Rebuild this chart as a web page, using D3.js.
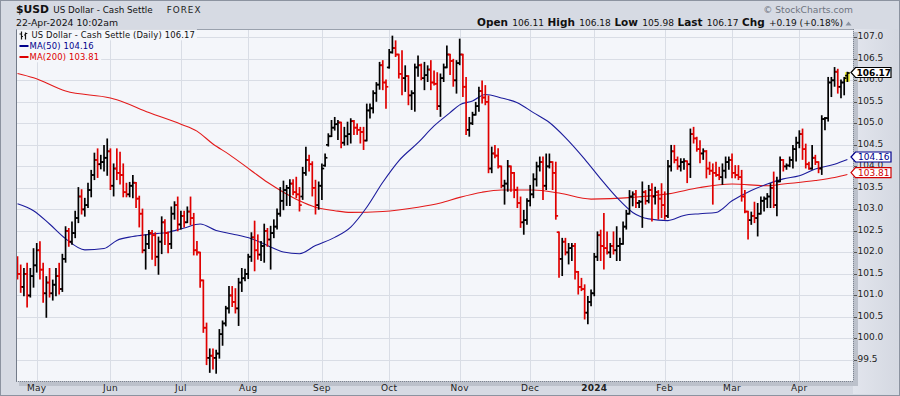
<!DOCTYPE html>
<html>
<head>
<meta charset="utf-8">
<script src="https://cdn.jsdelivr.net/npm/d3@7"></script>
<style>
  html, body { margin: 0; padding: 0; background: #d7dbe4; }
  svg { display: block; }
  text { font-family: "DejaVu Sans", Verdana, sans-serif; }
</style>
</head>
<body>
<svg id="chart" width="900" height="396"></svg>
<script>

// trading calendar
var firstDay = "2023-04-21", lastDay = "2024-04-22";
var closedDays = ["2023-12-25", "2024-01-01"];

// daily bars: open, high, low, close
var bars = [
  // Apr 2023
  [101.80,101.89,101.39,101.50],[101.50,101.70,101.08,101.20],[101.20,101.62,101.00,101.50],[101.50,101.74,100.74,101.00],[101.00,101.62,100.97,101.45],
  [101.45,102.08,101.20,101.70],
  // May
  [101.70,102.20,101.55,102.05],[102.05,102.24,101.39,101.60],[101.60,101.74,100.85,101.05],[101.05,101.43,100.50,101.30],[101.30,101.62,100.97,101.05],
  [101.05,101.35,100.90,101.25],[101.25,101.62,101.00,101.45],[101.45,101.74,101.04,101.15],[101.15,101.95,101.10,101.85],[101.85,102.59,101.78,102.50],
  [102.50,102.55,102.15,102.25],[102.25,102.70,102.20,102.45],[102.45,102.95,102.35,102.80],[102.80,103.50,102.70,103.30],[103.30,103.45,102.90,103.00],
  [103.00,103.25,102.85,103.10],[103.10,103.60,103.05,103.45],[103.45,103.90,103.30,103.80],[103.80,104.30,103.70,104.15],[104.15,104.40,103.75,104.05],
  [104.05,104.25,103.95,104.10],[104.10,104.48,103.90,104.20],[104.20,104.63,103.80,104.35],
  // Jun
  [104.35,104.40,103.47,103.55],[103.55,104.05,103.32,103.95],[103.95,104.40,103.70,103.85],[103.85,104.32,103.60,103.80],[103.80,104.05,103.30,103.40],
  [103.40,103.60,103.30,103.35],[103.35,103.62,103.30,103.55],[103.55,103.78,103.28,103.62],[103.62,103.62,103.05,103.25],[103.25,103.30,102.60,102.90],
  [102.90,103.00,102.00,102.05],[102.05,102.40,101.62,102.20],[102.20,102.50,102.10,102.45],[102.45,102.50,101.85,102.40],[102.40,102.45,101.70,101.90],
  [101.90,102.35,101.50,102.25],[102.25,102.82,101.98,102.70],[102.70,102.75,102.19,102.45],[102.45,102.47,102.00,102.20],[102.20,103.05,102.10,102.90],
  [102.90,103.17,102.78,103.10],[103.10,103.28,102.51,102.65],
  // Jul
  [102.65,102.95,102.55,102.85],[102.85,102.95,102.60,102.70],[102.70,103.05,102.70,102.95],[102.95,103.28,102.65,102.80],[102.80,102.90,101.95,102.05],
  [102.05,102.25,101.95,102.00],[102.00,102.00,101.20,101.35],[101.35,101.35,100.15,100.25],[100.25,100.35,99.40,99.55],[99.55,99.75,99.22,99.60],
  [99.60,99.75,99.30,99.55],[99.55,99.72,99.20,99.65],[99.65,100.20,99.55,100.10],[100.10,100.40,99.85,100.35],[100.35,100.74,100.30,100.70],
  [100.70,101.20,100.60,101.00],[101.00,101.20,100.75,100.85],[100.85,101.15,100.60,100.70],[100.70,101.39,100.31,101.30],[101.30,101.62,101.10,101.40],
  [101.40,101.60,101.35,101.50],
  // Aug
  [101.50,101.95,101.40,101.90],[101.90,102.45,101.80,102.35],[102.35,102.72,101.58,102.05],[102.05,102.40,101.85,101.95],[101.95,102.25,101.82,102.15],
  [102.15,102.65,101.78,102.50],[102.50,102.55,102.15,102.30],[102.30,102.60,101.62,102.45],[102.45,102.75,102.35,102.60],[102.60,103.00,102.55,102.90],
  [102.90,103.50,102.85,103.20],[103.20,103.65,103.00,103.45],[103.45,103.55,103.10,103.50],[103.50,103.68,103.10,103.60],[103.60,103.68,103.35,103.40],
  [103.40,103.74,103.28,103.35],[103.35,103.50,102.97,103.10],[103.30,103.97,103.24,103.85],[103.85,104.44,103.80,104.15],[104.15,104.25,103.90,104.05],
  [104.05,104.10,103.32,103.50],[103.50,103.67,102.90,103.10],[103.10,103.63,103.01,103.55],
  // Sep
  [103.55,104.05,103.24,103.95],[104.02,104.28,104.01,104.20],[104.50,104.75,104.48,104.70],[104.70,105.06,104.70,104.90],[104.90,105.13,104.85,104.98],
  [104.98,105.06,104.63,105.02],[105.02,105.02,104.44,104.55],[104.55,104.90,104.50,104.70],[104.70,105.02,104.51,104.75],[104.75,105.10,104.55,105.05],
  [105.05,105.06,104.75,104.90],[104.90,104.98,104.75,104.85],[104.85,104.90,104.55,104.80],[104.80,104.90,104.40,104.60],[104.60,105.44,104.60,105.30],
  [105.30,105.44,105.13,105.35],[105.35,105.75,105.25,105.70],[105.70,105.94,105.52,105.90],[105.90,106.41,105.80,106.35],[106.35,106.45,105.79,105.95],
  [105.95,106.00,105.36,105.85],
  // Oct
  [106.30,106.71,106.29,106.65],[106.65,107.02,106.64,106.75],[106.75,106.91,106.56,106.60],[106.60,106.60,106.06,106.15],[106.15,106.68,105.67,106.05],
  [106.05,106.33,105.75,106.10],[106.10,106.10,105.44,105.65],[105.65,105.75,105.33,105.70],[105.70,106.37,105.29,106.30],[106.30,106.56,106.10,106.35],
  [106.35,106.37,106.02,106.05],[106.05,106.41,105.79,106.12],[106.12,106.33,105.98,106.25],[106.25,106.45,105.79,105.95],[105.95,106.21,105.90,105.92],
  [105.92,106.17,105.33,105.40],[105.40,106.14,105.17,106.05],[106.05,106.37,105.98,106.30],[106.30,106.79,106.30,106.60],[106.60,106.60,106.14,106.45],
  [106.45,106.48,105.87,106.00],[106.00,106.45,105.71,106.40],
  // Nov
  [106.40,106.95,106.37,106.60],[106.60,106.60,105.63,105.85],[105.85,106.06,104.75,104.85],[104.85,105.13,104.71,105.00],[105.00,105.25,104.98,105.20],
  [105.20,105.48,105.20,105.40],[105.40,105.83,105.29,105.75],[105.75,105.98,105.48,105.60],[105.60,105.87,105.44,105.50],[105.50,105.63,103.86,103.95],
  [103.95,104.44,103.86,104.30],[104.30,104.48,104.21,104.25],[104.25,104.40,103.97,104.00],[104.00,104.00,103.51,103.55],[103.55,103.67,103.13,103.60],
  [103.60,104.13,103.43,104.00],[104.00,104.00,103.43,103.85],[103.85,103.85,103.28,103.45],[103.45,103.51,103.05,103.15],[103.15,103.28,102.59,102.70],
  [102.70,102.97,102.43,102.75],[102.75,103.24,102.66,103.20],
  // Dec
  [103.20,103.55,103.09,103.35],[103.35,103.82,103.28,103.70],[103.70,104.09,103.55,104.00],[104.00,104.21,103.90,104.10],[104.10,104.21,103.24,103.55],
  [103.55,104.28,103.47,104.00],[104.00,104.28,103.97,104.10],[104.10,104.10,103.47,103.85],[103.85,104.09,102.78,102.85],[102.47,102.47,101.43,101.85],
  [101.85,102.32,101.47,102.25],[102.25,102.32,101.95,102.00],[102.00,102.20,101.74,102.10],[102.10,102.20,101.82,102.15],[102.15,102.20,101.39,101.55],
  [101.55,101.55,101.04,101.20],[101.20,101.39,101.12,101.15],[101.15,101.24,100.46,100.60],[100.60,100.97,100.35,100.85],[100.85,101.12,100.77,101.05],
  // Jan 2024
  [101.05,101.97,101.00,101.90],[101.90,102.47,101.82,102.40],[102.40,102.51,101.82,102.15],[102.15,102.90,101.62,102.10],[102.10,102.47,101.97,102.00],
  [102.00,102.20,101.89,102.15],[102.15,102.47,101.97,102.05],[102.05,102.59,101.82,102.15],[102.15,102.32,101.82,102.20],[102.20,102.70,102.20,102.60],
  [102.60,102.97,102.55,102.90],[102.90,103.43,102.90,103.30],[103.30,103.40,103.09,103.35],[103.35,103.43,103.05,103.15],[103.15,103.20,103.05,103.18],
  [103.18,103.63,102.59,103.40],[103.40,103.43,103.13,103.20],[103.20,103.55,103.16,103.45],[103.45,103.59,102.74,103.30],[103.30,103.51,103.13,103.40],
  [103.40,103.43,102.78,103.25],[103.25,103.59,102.82,103.10],
  // Feb
  [103.10,103.40,102.78,102.85],[102.85,104.13,102.82,104.00],[104.00,104.48,103.90,104.35],[104.35,104.48,104.09,104.15],[104.15,104.21,103.94,104.00],
  [104.00,104.17,103.90,104.10],[104.10,104.17,103.94,104.12],[104.12,104.12,103.63,104.05],[104.05,104.86,103.75,104.75],[104.75,104.90,104.55,104.65],
  [104.65,104.67,104.36,104.40],[104.40,104.59,104.09,104.30],[104.30,104.40,104.17,104.35],[104.35,104.36,103.74,103.95],[103.95,104.09,103.82,103.90],
  [103.90,104.05,103.13,103.85],[103.85,104.09,103.78,103.80],[103.80,103.97,103.70,103.75],[103.75,104.05,103.59,103.90],[103.90,104.21,103.74,104.10],
  [104.10,104.21,103.94,104.15],
  // Mar
  [104.15,104.28,103.74,103.85],[103.85,104.01,103.74,103.80],[103.80,104.01,103.70,103.75],[103.75,103.90,103.20,103.30],[103.30,103.43,102.93,102.95],
  [102.95,102.95,102.32,102.75],[102.75,102.93,102.66,102.85],[102.85,103.16,102.70,102.80],[102.80,103.13,102.39,102.90],[102.90,103.28,102.90,103.20],
  [103.20,103.28,102.97,103.25],[103.25,103.36,103.05,103.30],[103.30,103.59,103.05,103.50],[103.50,103.86,103.05,103.10],[103.10,103.74,102.86,103.65],
  [103.65,104.21,103.65,104.15],[104.15,104.15,103.90,104.00],[104.00,104.05,103.94,104.02],[104.02,104.21,104.00,104.15],[104.15,104.48,103.97,104.40],
  [104.40,104.67,104.13,104.55],
  // Apr
  [104.55,104.82,104.44,104.75],[104.75,104.86,104.17,104.40],[104.40,104.51,103.97,104.05],[104.05,104.09,103.94,103.95],[103.95,104.48,103.94,104.20],
  [104.20,104.25,104.05,104.10],[104.10,104.10,103.86,103.95],[103.95,105.17,103.82,105.10],[105.10,105.13,104.86,105.12],[105.12,106.06,105.06,105.95],
  [105.95,106.06,105.63,106.00],[106.00,106.29,105.87,106.20],[106.20,106.25,105.71,105.85],[105.85,106.00,105.60,105.95],[105.95,106.06,105.67,106.05],
  [106.11,106.18,105.98,106.17]
];

// moving averages (date, value)
var ma50 = [
  ["2023-04-21",103.13],["2023-04-28",102.97],["2023-05-05",102.66],["2023-05-12",102.32],["2023-05-22",102.06],
  ["2023-05-30",102.09],["2023-06-05",102.28],["2023-06-12",102.37],["2023-06-19",102.42],["2023-06-27",102.47],
  ["2023-07-04",102.57],["2023-07-11",102.66],["2023-07-18",102.51],["2023-07-25",102.43],["2023-08-02",102.32],
  ["2023-08-09",102.16],["2023-08-16",102.01],["2023-08-23",101.97],["2023-08-30",102.16],["2023-09-07",102.35],
  ["2023-09-14",102.59],["2023-09-21",103.05],["2023-09-28",103.63],["2023-10-05",104.13],["2023-10-13",104.55],
  ["2023-10-20",104.94],["2023-10-27",105.25],["2023-11-01",105.43],["2023-11-07",105.52],["2023-11-13",105.67],
  ["2023-11-20",105.59],["2023-11-27",105.48],["2023-12-04",105.25],["2023-12-11",105.02],["2023-12-18",104.67],
  ["2023-12-27",104.17],["2024-01-04",103.71],["2024-01-11",103.28],["2024-01-18",102.93],["2024-01-25",102.78],
  ["2024-02-02",102.74],["2024-02-09",102.86],["2024-02-16",102.90],["2024-02-23",102.93],["2024-03-01",103.20],
  ["2024-03-11",103.44],["2024-03-18",103.59],["2024-03-25",103.71],["2024-04-01",103.78],["2024-04-08",103.94],
  ["2024-04-16",104.05],["2024-04-22",104.16]
];
var ma200 = [
  ["2023-04-21",106.16],["2023-04-28",106.06],["2023-05-12",105.75],["2023-06-01",105.59],["2023-06-05",105.55],
  ["2023-06-19",105.25],["2023-07-03",104.98],["2023-07-10",104.82],["2023-07-17",104.52],["2023-07-24",104.28],
  ["2023-08-02",103.90],["2023-08-09",103.63],["2023-08-16",103.40],["2023-08-23",103.20],["2023-08-30",103.05],
  ["2023-09-07",102.97],["2023-09-14",102.93],["2023-09-28",102.95],["2023-10-13",103.05],["2023-10-24",103.15],
  ["2023-11-01",103.28],["2023-11-10",103.40],["2023-11-20",103.45],["2023-12-04",103.45],["2023-12-14",103.38],
  ["2023-12-29",103.24],["2024-01-18",103.28],["2024-02-02",103.36],["2024-02-16",103.51],["2024-03-01",103.59],
  ["2024-03-18",103.55],["2024-03-25",103.59],["2024-04-08",103.67],["2024-04-16",103.74],["2024-04-22",103.81]
];

var monthLabels = ["May","Jun","Jul","Aug","Sep","Oct","Nov","Dec","2024","Feb","Mar","Apr"];
var priceTicks = [99.5,100.0,100.5,101.0,101.5,102.0,102.5,103.0,103.5,104.0,104.5,105.0,105.5,106.0,106.5,107.0];

var symbol = "$USD", title = "US Dollar - Cash Settle", market = "FOREX";
var stamp = "22-Apr-2024 10:02am";
var quoteLabels = ["Open","High","Low","Last","Chg"];
var quoteValues = ["106.11","106.18","105.98","106.17","+0.19 (+0.18%)"];
var lastClose = 106.17, ma50Last = 104.16, ma200Last = 103.81;

var upColor = "#000", downColor = "#e00000";
var ma50Color = "#1c1c9c", ma200Color = "#e31a1a";

var svg = d3.select("#chart"),
    W = 900, H = 396,
    plot = {left: 16, top: 29, right: 853, bottom: 381};

// scale a text's font so it spans the width seen on the original
function fitWidth(sel, target) {
  var w = sel.node().getComputedTextLength();
  sel.attr("font-size", +sel.attr("font-size") * target / w);
  return sel;
}

// trading days
var parseDay = d3.timeParse("%Y-%m-%d"), fmtDay = d3.timeFormat("%Y-%m-%d");
var days = d3.timeDay.range(parseDay(firstDay), d3.timeDay.offset(parseDay(lastDay), 1))
  .filter(function(d) { return d.getDay() != 0 && d.getDay() != 6 && closedDays.indexOf(fmtDay(d)) < 0; });
var dayIndex = {};
days.forEach(function(d, i) { dayIndex[fmtDay(d)] = i; });

var monthStarts = [];
days.forEach(function(d, i) { if (i > 0 && d.getMonth() != days[i-1].getMonth()) monthStarts.push(i); });

var x = d3.scaleLinear().domain([-0.47, 260.75]).range([plot.left, plot.right]);
var y = d3.scaleLinear().domain([99.5, 107]).range([360, 37.3]);

// backgrounds
var defs = svg.append("defs");
var grad = defs.append("linearGradient").attr("id", "axisbg").attr("x1", 0).attr("x2", 1).attr("y1", 0).attr("y2", 0);
grad.append("stop").attr("offset", 0).attr("stop-color", "#e2e5ed");
grad.append("stop").attr("offset", 1).attr("stop-color", "#d4d8e1");
defs.append("clipPath").attr("id", "plotclip").append("rect")
  .attr("x", plot.left + 1).attr("y", plot.top + 1)
  .attr("width", plot.right - plot.left - 1).attr("height", plot.bottom - plot.top - 1);

svg.append("rect").attr("width", W).attr("height", H).attr("fill", "#d6dae3");
svg.append("rect").attr("x", plot.right).attr("y", plot.top).attr("width", W - plot.right - 2)
  .attr("height", H - plot.top - 2).attr("fill", "url(#axisbg)");
svg.append("rect").attr("x", 0.5).attr("y", 0.5).attr("width", W - 1).attr("height", H - 1)
  .attr("fill", "none").attr("stroke", "#8c93a0");

// shadow + plot area
svg.append("rect").attr("x", plot.left + 3).attr("y", plot.top + 3)
  .attr("width", plot.right - plot.left + 2).attr("height", plot.bottom - plot.top + 2)
  .attr("fill", "#bcc1cb");
svg.append("rect").attr("x", plot.left).attr("y", plot.top)
  .attr("width", plot.right - plot.left).attr("height", plot.bottom - plot.top)
  .attr("fill", "#f4f6fa");

// grid
var grid = svg.append("g").attr("stroke", "#d9dde5").attr("stroke-width", 1);
grid.selectAll("line.h").data(priceTicks).enter().append("line")
  .attr("x1", plot.left).attr("x2", plot.right)
  .attr("y1", function(d) { return Math.round(y(d)) + 0.5; })
  .attr("y2", function(d) { return Math.round(y(d)) + 0.5; });
grid.selectAll("line.v").data(monthStarts).enter().append("line")
  .attr("y1", plot.top).attr("y2", plot.bottom)
  .attr("x1", function(d) { return Math.round(x(d)) + 0.5; })
  .attr("x2", function(d) { return Math.round(x(d)) + 0.5; });

var inner = svg.append("g").attr("clip-path", "url(#plotclip)");

// moving averages
var maLine = d3.line()
  .x(function(d) { return x(dayIndex[d[0]]); })
  .y(function(d) { return y(d[1]); })
  .curve(d3.curveMonotoneX);
inner.append("path").datum(ma200).attr("d", maLine)
  .attr("fill", "none").attr("stroke", ma200Color).attr("stroke-width", 1.1);
inner.append("path").datum(ma50).attr("d", maLine)
  .attr("fill", "none").attr("stroke", ma50Color).attr("stroke-width", 1.1);

// last bar highlight
var lastI = bars.length - 1, lastBar = bars[lastI];
inner.append("rect")
  .attr("x", x(lastI) - 2.5).attr("width", 5)
  .attr("y", y(lastBar[1]) - 0.5).attr("height", y(lastBar[2]) - y(lastBar[1]) + 1)
  .attr("fill", "#f4f43c");

// OHLC bars
var bar = inner.selectAll("g.bar").data(bars).enter().append("g")
  .attr("class", "bar")
  .attr("stroke-width", 1.7)
  .attr("stroke", function(d, i) {
    var prev = i > 0 ? bars[i-1][3] : d[0];
    return d[3] < prev ? downColor : upColor;
  });
bar.append("line")
  .attr("x1", function(d, i) { return x(i); }).attr("x2", function(d, i) { return x(i); })
  .attr("y1", function(d) { return y(d[1]) - 0.8; }).attr("y2", function(d) { return y(d[2]) + 0.8; });
bar.append("line")
  .attr("x1", function(d, i) { return x(i) - 2.3; }).attr("x2", function(d, i) { return x(i); })
  .attr("y1", function(d) { return y(d[0]); }).attr("y2", function(d) { return y(d[0]); });
bar.append("line")
  .attr("x1", function(d, i) { return x(i); }).attr("x2", function(d, i) { return x(i) + 2.3; })
  .attr("y1", function(d) { return y(d[3]); }).attr("y2", function(d) { return y(d[3]); });

// plot borders
svg.append("line").attr("x1", plot.left + 0.5).attr("x2", plot.left + 0.5)
  .attr("y1", plot.top).attr("y2", plot.bottom).attr("stroke", "#737b89");
svg.append("line").attr("x1", plot.left).attr("x2", plot.right)
  .attr("y1", plot.top + 0.5).attr("y2", plot.top + 0.5).attr("stroke", "#9aa1ad");
svg.append("line").attr("x1", plot.right + 0.5).attr("x2", plot.right + 0.5)
  .attr("y1", plot.top).attr("y2", plot.bottom).attr("stroke", "#7d8490").attr("stroke-dasharray", "1,1");
svg.append("line").attr("x1", plot.left).attr("x2", plot.right)
  .attr("y1", plot.bottom + 0.5).attr("y2", plot.bottom + 0.5).attr("stroke", "#7d8490").attr("stroke-dasharray", "1,1");

// right axis
var yAxis = svg.append("g");
yAxis.selectAll("line").data(priceTicks).enter().append("line")
  .attr("x1", plot.right + 1).attr("x2", plot.right + 4)
  .attr("y1", function(d) { return Math.round(y(d)) + 0.5; })
  .attr("y2", function(d) { return Math.round(y(d)) + 0.5; })
  .attr("stroke", "#555");
yAxis.selectAll("text").data(priceTicks).enter().append("text")
  .attr("x", plot.right + 4.5).attr("y", function(d) { return y(d) + 2; })
  .attr("font-size", 9).attr("fill", "#222")
  .text(d3.format(".1f"));

// bottom axis
svg.selectAll("text.month").data(monthStarts).enter().append("text")
  .attr("class", "month")
  .attr("x", function(d) { return x(d); }).attr("y", 391)
  .attr("text-anchor", "middle").attr("font-size", 9).attr("letter-spacing", 0.3)
  .attr("font-weight", function(d, i) { return monthLabels[i] == "2024" ? "bold" : "normal"; })
  .attr("fill", "#222")
  .text(function(d, i) { return monthLabels[i]; });

// value callouts on the right axis
function callout(v, cy, color, bold) {
  var g = svg.append("g");
  var tip = plot.right - 2, l = plot.right + 2.5, r = plot.right + 38, h = 5;
  g.append("path")
    .attr("d", "M" + tip + "," + cy + "L" + l + "," + (cy - h) + "L" + r + "," + (cy - h) +
               "L" + r + "," + (cy + h) + "L" + l + "," + (cy + h) + "Z")
    .attr("fill", "#fff").attr("stroke", color).attr("stroke-width", 1.2);
  g.append("text").attr("x", (l + r) / 2 + 0.5).attr("y", cy + 3.3)
    .attr("text-anchor", "middle").attr("font-size", 9)
    .attr("font-weight", bold ? "bold" : "normal").attr("fill", color)
    .text(d3.format(".2f")(v));
}
callout(lastClose, y(lastClose) - 0.5, "#000", true);
callout(ma50Last, y(ma50Last) - 2.5, "#00008b", false);
callout(ma200Last, y(ma200Last) - 2, "#d00000", false);

// legend
var legend = svg.append("g");
var legendRows = [
  {text: title + " (Daily) " + d3.format(".2f")(lastClose), color: "#111", y: 38.3, x: 31.5},
  {text: "MA(50) " + d3.format(".2f")(ma50Last), color: "#00008b", y: 49.3, x: 29.5},
  {text: "MA(200) " + d3.format(".2f")(ma200Last), color: "#dd0000", y: 60.3, x: 29.5}
];
var legendBg = legend.append("g"), legendFg = legend.append("g");
var legendText = legendRows.map(function(r) {
  return legendFg.append("text").attr("x", r.x).attr("y", r.y)
    .attr("font-size", 10).attr("letter-spacing", 0.15).attr("fill", r.color).text(r.text);
});
fitWidth(legendText[1], 64);
var legendSize = legendText[1].attr("font-size");
legendText.forEach(function(t, i) {
  t.attr("font-size", legendSize);
  var w = t.node().getComputedTextLength();
  legendBg.append("rect").attr("fill", "#f4f6fa")
    .attr("x", 17).attr("y", legendRows[i].y - 9).attr("width", w + legendRows[i].x - 15).attr("height", 11);
  if (i > 0) {
    legendFg.append("rect").attr("x", 19.5).attr("y", legendRows[i].y - 4.3).attr("width", 9).attr("height", 2)
      .attr("fill", legendRows[i].color);
  }
});
legendFg.append("path")
  .attr("d", "M21.5,31.5V39.5M19.5,34H21.5M21.5,36.5H23M25.5,32.5V39.5M24,35H25.5M25.5,33.5H27.3")
  .attr("stroke", "#111").attr("stroke-width", 1.2).attr("fill", "none");

// header
var sym = svg.append("text").attr("x", 16).attr("y", 13).attr("font-family", "'Liberation Sans', Arial, sans-serif")
  .attr("font-weight", "bold").attr("font-size", 12.5).attr("fill", "#111").text(symbol);
fitWidth(sym, 33);
var ttl = svg.append("text").attr("x", 53.3).attr("y", 13).attr("font-family", "'Liberation Sans', Arial, sans-serif")
  .attr("font-size", 10).attr("fill", "#111").text(title);
fitWidth(ttl, 99.4);
var mkt = svg.append("text").attr("x", 166.7).attr("y", 12.5).attr("font-size", 8.5).attr("letter-spacing", 1)
  .attr("fill", "#222").text(market);
fitWidth(mkt, 35);
var stp = svg.append("text").attr("x", 16).attr("y", 25.7).attr("font-size", 9.2).attr("fill", "#111").text(stamp);
fitWidth(stp, 102);
var copy = svg.append("text").attr("x", 853).attr("y", 12.7).attr("text-anchor", "end").attr("font-size", 9)
  .attr("fill", "#6e7480").text("\u00a9 StockCharts.com");
fitWidth(copy, 90);

// quote line, laid out right to left from the marker
var quote = svg.append("g");
var pieces = [];
quoteLabels.forEach(function(l, i) {
  pieces.push(quote.append("text").attr("y", 26).attr("font-family", "'Liberation Sans', Arial, sans-serif")
    .attr("font-weight", "bold").attr("font-size", 11).attr("fill", "#111").text(l));
  pieces.push(quote.append("text").attr("y", 26).attr("font-size", 9.5)
    .attr("fill", "#111").text(quoteValues[i]));
});
var gapLabel = 4.3, gapValue = 3.6, quoteLeft = 476.7, quoteRight = 843;
var textSum = d3.sum(pieces, function(p) { return p.node().getComputedTextLength(); });
var gapSum = quoteLabels.length * gapLabel + (quoteLabels.length - 1) * gapValue;
var k0 = (quoteRight - quoteLeft - gapSum) / textSum;
pieces.forEach(function(p) { p.attr("font-size", +p.attr("font-size") * k0); });
var cursor = quoteRight;
for (var k = pieces.length - 1; k >= 0; k--) {
  var w = pieces[k].node().getComputedTextLength();
  cursor -= w;
  pieces[k].attr("x", cursor);
  cursor -= (k % 2 == 1) ? gapLabel : gapValue;
}
svg.append("path").attr("d", "M845.5,25.5L848.5,21.5L851.5,25.5Z").attr("fill", "#8a92a0");

</script>
</body>
</html>
